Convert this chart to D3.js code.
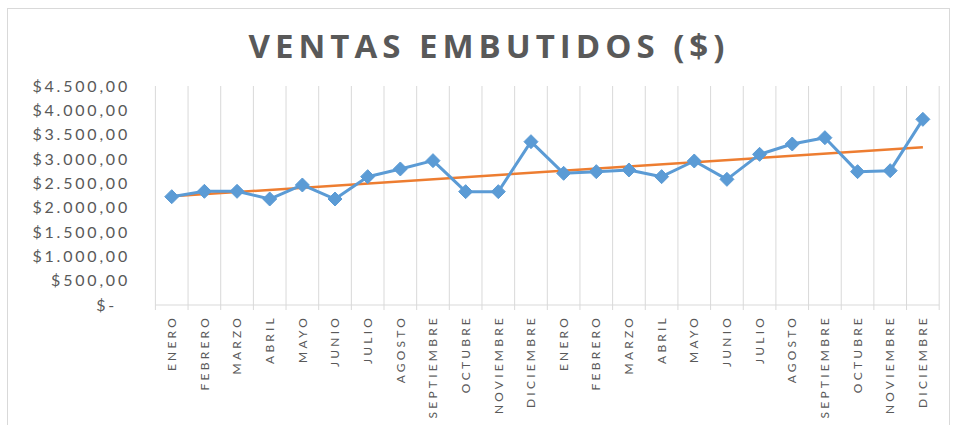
<!DOCTYPE html>
<html>
<head>
<meta charset="utf-8">
<script src="https://cdn.jsdelivr.net/npm/d3@7"></script>
<style>
  html, body { margin: 0; padding: 0; background: #fff; }
  svg { display: block; }
</style>
</head>
<body>
<svg id="chart" width="954" height="425"></svg>
<script>
const months = ["ENERO","FEBRERO","MARZO","ABRIL","MAYO","JUNIO","JULIO","AGOSTO","SEPTIEMBRE","OCTUBRE","NOVIEMBRE","DICIEMBRE",
                "ENERO","FEBRERO","MARZO","ABRIL","MAYO","JUNIO","JULIO","AGOSTO","SEPTIEMBRE","OCTUBRE","NOVIEMBRE","DICIEMBRE"];
const ventas = [2225, 2336, 2336, 2178, 2466, 2178, 2637, 2795, 2966, 2329, 2329, 3356,
                2706, 2740, 2774, 2637, 2959, 2582, 3096, 3308, 3438, 2740, 2760, 3815];
const yTicks = [0, 500, 1000, 1500, 2000, 2500, 3000, 3500, 4000, 4500];
const title = "VENTAS EMBUTIDOS ($)";

const svg = d3.select("#chart");
const plot = { left: 155.4, right: 939.2, top: 86, bottom: 305 };

// outer chart border
svg.append("rect").attr("x", 7.5).attr("y", 8.5).attr("width", 942).attr("height", 440)
  .attr("fill", "#fff").attr("stroke", "#d9d9d9").attr("stroke-width", 1);

const idx = months.map((d, i) => i);
const x = d3.scaleBand().domain(idx).range([plot.left, plot.right]).padding(0);
const y = d3.scaleLinear().domain([0, 4500]).range([plot.bottom, plot.top]);

// title
svg.append("text").attr("x", 489).attr("y", 58).attr("text-anchor", "middle")
  .attr("font-family", "'Open Sans', sans-serif").attr("font-weight", "bold")
  .attr("font-size", 33).attr("letter-spacing", 5).attr("fill", "#595959")
  .text(title);

// vertical gridlines at category boundaries
const bounds = idx.map(i => x(i)).concat([x(idx[idx.length - 1]) + x.bandwidth()]);
svg.append("g").selectAll("line").data(bounds).join("line")
  .attr("x1", d => d).attr("x2", d => d)
  .attr("y1", plot.top).attr("y2", plot.bottom + 5)
  .attr("stroke", "#d9d9d9").attr("stroke-width", 1);

// x axis line
svg.append("line").attr("x1", plot.left).attr("x2", plot.right)
  .attr("y1", plot.bottom).attr("y2", plot.bottom)
  .attr("stroke", "#d9d9d9").attr("stroke-width", 1);

// y axis labels
const fmt = v => v === 0 ? "$-" : "$" + d3.format(",.2f")(v).replace(/,/g, "#").replace(/\./g, ",").replace(/#/g, ".");
const yAxis = d3.axisLeft(y).tickValues(yTicks).tickSize(0).tickPadding(0).tickFormat(fmt);
const gy = svg.append("g").attr("transform", `translate(130,0)`).call(yAxis);
gy.select(".domain").remove();
gy.selectAll("text")
  .attr("font-family", "Lato, sans-serif").attr("font-size", 16).attr("letter-spacing", 2.8)
  .attr("fill", "#595959")
  .attr("dx", d => d === 0 ? -13 : 0);

// x axis labels
const xAxis = d3.axisBottom(x).tickSize(0).tickFormat(i => months[i]);
const gx = svg.append("g").attr("transform", `translate(0,${plot.bottom})`).call(xAxis);
gx.select(".domain").remove();
gx.selectAll("text")
  .attr("transform", "rotate(-90)")
  .attr("text-anchor", "end")
  .attr("x", -10).attr("y", 0).attr("dy", "0.35em")
  .attr("font-family", "Lato, sans-serif").attr("font-size", 12).attr("letter-spacing", 3.2)
  .attr("fill", "#595959");

// trend line (linear regression)
const n = ventas.length;
const xs = ventas.map((v, i) => i + 1);
const mx = d3.mean(xs), my = d3.mean(ventas);
const slope = d3.sum(xs.map((xi, i) => (xi - mx) * (ventas[i] - my))) / d3.sum(xs.map(xi => (xi - mx) ** 2));
const icpt = my - slope * mx;
const cx = i => x(i) + x.bandwidth() / 2;
svg.append("line")
  .attr("x1", cx(0)).attr("y1", y(icpt + slope * 1))
  .attr("x2", cx(n - 1)).attr("y2", y(icpt + slope * n))
  .attr("stroke", "#ed7d31").attr("stroke-width", 2.5);

// series line
const line = d3.line().x((d, i) => cx(i)).y(d => y(d));
svg.append("path").datum(ventas).attr("d", line)
  .attr("fill", "none").attr("stroke", "#5b9bd5").attr("stroke-width", 3).attr("stroke-linejoin", "round");

// diamond markers
svg.append("g").selectAll("path").data(ventas).join("path")
  .attr("transform", (d, i) => `translate(${cx(i)},${y(d)})`)
  .attr("d", "M0,-7 L7,0 L0,7 L-7,0 Z")
  .attr("fill", "#5b9bd5").attr("stroke", "#5b9bd5").attr("stroke-width", 1);
</script>
</body>
</html>
